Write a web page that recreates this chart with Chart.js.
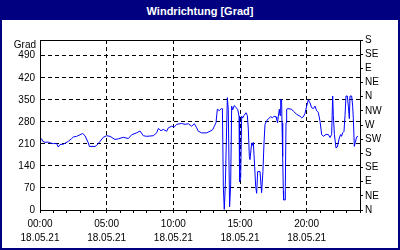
<!DOCTYPE html>
<html>
<head>
<meta charset="utf-8">
<script src="https://cdn.jsdelivr.net/npm/chart.js@4.4.0/dist/chart.umd.min.js"></script>
<style>
  html, body { margin: 0; padding: 0; background: #fff; }
  #frame { position: absolute; left: 0; top: 0; width: 400px; height: 250px; box-sizing: border-box;
           border: 2px solid #000080; background: #fff; }
  #title { height: 18px; background: #000080; color: #fff; font: bold 11px "Liberation Sans", Arial, sans-serif;
           text-align: center; line-height: 18px; }
  #c { position: absolute; left: 0; top: 0; }
</style>
</head>
<body>
<div id="frame"><div id="title">Windrichtung [Grad]</div></div>
<canvas id="c" width="400" height="250"></canvas>
<script>
// time of day in hours (18.05.21)
const hours = [
  0, 0.125, 0.2, 0.375, 0.625, 0.75, 1.0, 1.25, 1.375, 1.5, 1.75, 2.125, 2.375, 2.5, 2.75, 3.0, 3.2, 3.375, 3.625, 3.7,
  4.125, 4.25, 4.5, 4.75, 5.0, 5.25, 5.625, 5.875, 6.25, 6.625, 6.875, 7.25, 7.5, 7.75, 8.0, 8.5, 8.75, 8.875, 9.075, 9.25,
  9.5, 9.625, 9.875, 10.075, 10.25, 10.625, 10.875, 11.125, 11.375, 11.575, 11.75, 11.875, 12.125, 12.5, 12.75, 12.95, 13.075, 13.2, 13.3, 13.45,
  13.6, 13.68, 13.75, 13.82, 13.9, 14.05, 14.12, 14.22, 14.3, 14.375, 14.45, 14.575, 14.7, 14.825, 14.925, 14.97, 15.05, 15.125, 15.2, 15.3,
  15.45, 15.55, 15.62, 15.7, 15.75, 15.875, 15.95, 16.0, 16.1, 16.175, 16.25, 16.325, 16.5, 16.62, 16.72, 16.8, 16.875, 17.0, 17.125, 17.3,
  17.45, 17.55, 17.7, 17.75, 17.82, 17.875, 17.95, 18.0, 18.05, 18.12, 18.15, 18.2, 18.25, 18.27, 18.375, 18.4, 18.45, 18.5, 18.6, 18.875,
  19.0, 19.25, 19.5, 19.625, 19.75, 19.875, 20.0, 20.125, 20.25, 20.375, 20.5, 20.625, 20.75, 20.875, 21.0, 21.125, 21.25, 21.45, 21.62, 21.75,
  21.875, 21.95, 22.0, 22.08, 22.2, 22.3, 22.45, 22.55, 22.62, 22.7, 22.8, 22.875, 22.95, 23.05, 23.125, 23.2, 23.25, 23.375, 23.45, 23.5,
  23.575, 23.65, 23.75, 23.85
];
// wind direction in degrees
const degrees = [
  224, 226, 218, 215, 216, 213, 211, 211, 200, 208, 209, 218, 227, 232, 234, 239, 243, 236, 213, 202,
  202, 205, 218, 231, 236, 234, 224, 226, 231, 227, 239, 245, 251, 236, 234, 236, 245, 259, 252, 256,
  250, 261, 266, 264, 272, 275, 272, 274, 266, 274, 261, 250, 245, 245, 250, 255, 266, 277, 320, 316,
  322, 322, 75, 2, 80, 357, 320, 10, 80, 330, 318, 332, 325, 320, 298, 90, 100, 298, 292, 300,
  309, 300, 260, 170, 160, 213, 205, 215, 138, 75, 53, 122, 122, 55, 122, 213, 272, 283, 290, 296,
  293, 298, 296, 288, 277, 298, 320, 300, 351, 351, 277, 170, 60, 32, 32, 75, 277, 320, 322, 320,
  314, 304, 298, 293, 296, 307, 330, 350, 340, 325, 322, 330, 315, 310, 282, 240, 234, 240, 240, 230,
  240, 362, 300, 240, 197, 200, 229, 240, 234, 245, 250, 300, 362, 362, 330, 290, 362, 362, 330, 290,
  202, 215, 232, 234
];
const xTickTimes = ['00:00', '05:00', '10:00', '15:00', '20:00'];
const xTickDate = '18.05.21';
const leftTicks = [0, 70, 140, 210, 280, 350, 420, 490];
const dirLabels = ['N', 'NE', 'E', 'SE', 'S', 'SW', 'W', 'NW', 'N', 'NE', 'E', 'SE', 'S'];
const yUnit = 'Grad';

Chart.defaults.font.family = '"Liberation Sans", Arial, sans-serif';
Chart.defaults.font.size = 10;
Chart.defaults.color = '#000';

const framePlugin = {
  id: 'frame',
  afterDraw(chart) {
    const {ctx, chartArea: a} = chart;
    ctx.save();
    ctx.strokeStyle = '#000';
    ctx.lineWidth = 1;
    ctx.strokeRect(Math.round(a.left) + 0.5, Math.round(a.top) + 0.5, Math.round(a.right - a.left), Math.round(a.bottom - a.top));
    ctx.fillStyle = '#000';
    ctx.font = '10px "Liberation Sans", Arial, sans-serif';
    ctx.textAlign = 'right';
    ctx.textBaseline = 'middle';
    ctx.fillText(yUnit, a.left - 4, a.top + 5);
    ctx.restore();
  }
};

new Chart(document.getElementById('c'), {
  type: 'line',
  data: {
    datasets: [{
      data: hours.map((h, i) => ({x: h, y: degrees[i]})),
      borderColor: '#0000ff',
      borderWidth: 1,
      pointRadius: 0,
      tension: 0,
      fill: false
    }]
  },
  options: {
    responsive: false,
    animation: false,
    layout: {padding: {top: 40, left: 0, right: 0, bottom: 0}},
    plugins: {legend: {display: false}, title: {display: false}, tooltip: {enabled: false}},
    scales: {
      x: {
        type: 'linear', position: 'bottom', min: 0, max: 24,
        afterFit: s => { s.height = 40; },
        ticks: {
          stepSize: 1, autoSkip: false, maxRotation: 0, padding: 4,
          font: {lineHeight: 1.4},
          callback: v => (v % 5 === 0 ? [xTickTimes[v / 5], xTickDate] : '')
        },
        grid: {
          color: c => (c.tick && c.tick.value % 5 === 0 && c.tick.value > 0 && c.tick.value < 24) ? '#000' : 'rgba(0,0,0,0)',
          tickColor: '#000', tickLength: 3, tickBorderDash: [], lineWidth: 1
        },
        border: {display: true, color: '#000', dash: [4, 3]}
      },
      y: {
        type: 'linear', position: 'left', min: 0, max: 540,
        afterFit: s => { s.width = 40; },
        afterBuildTicks: s => { s.ticks = leftTicks.map(v => ({value: v})); },
        ticks: {padding: 5, autoSkip: false, callback: v => String(v)},
        grid: {
          color: c => (c.tick && c.tick.value > 0) ? '#000' : 'rgba(0,0,0,0)',
          drawTicks: false, lineWidth: 1
        },
        border: {display: true, color: '#000', dash: [4, 3]}
      },
      y2: {
        type: 'linear', position: 'right', min: 0, max: 540,
        afterFit: s => { s.width = 40; },
        afterBuildTicks: s => { s.ticks = dirLabels.map((l, i) => ({value: i * 45})); },
        ticks: {padding: 2, autoSkip: false, callback: (v, i) => dirLabels[i]},
        grid: {drawOnChartArea: false, tickColor: '#000', tickLength: 3, tickBorderDash: []},
        border: {display: true, color: '#000'}
      }
    }
  },
  plugins: [framePlugin]
});
</script>
</body>
</html>
